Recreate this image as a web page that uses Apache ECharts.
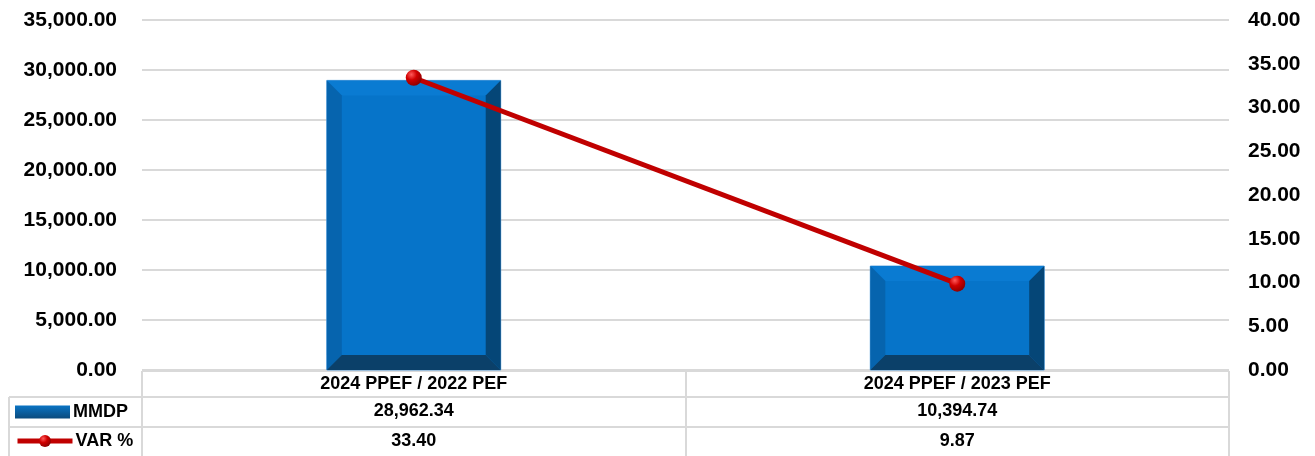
<!DOCTYPE html>
<html>
<head>
<meta charset="utf-8">
<script src="https://cdn.jsdelivr.net/npm/echarts@6/dist/echarts.min.js"></script>
<style>
  html, body { margin: 0; padding: 0; background: #fff; }
  #chart { width: 1315px; height: 456px; }
</style>
</head>
<body>
<div id="chart"></div>
<script>
// datos
const categories = ["2024 PPEF / 2022 PEF", "2024 PPEF / 2023 PEF"];
const mmdp = [28962.34, 10394.74];
const varPct = [33.40, 9.87];

const fmt = v => Number(v).toLocaleString("en-US", { minimumFractionDigits: 2, maximumFractionDigits: 2 });

const chart = echarts.init(document.getElementById("chart"));

// barra con bisel
function renderBevelBar(params, api) {
  const idx = api.value(0);
  const top = api.coord([idx, api.value(1)]);
  const bottom = api.coord([idx, 0]);
  const w = api.size([1, 0])[0] * 0.32;
  const x0 = top[0] - w / 2, x1 = top[0] + w / 2;
  const y0 = top[1], y1 = bottom[1];
  const b = Math.min(15, (y1 - y0) / 2);
  const poly = (pts, fill) => ({ type: "polygon", shape: { points: pts }, style: { fill: fill } });
  return {
    type: "group",
    children: [
      { type: "rect", shape: { x: x0, y: y0, width: x1 - x0, height: y1 - y0 }, style: { fill: "#0674c9", stroke: "#5aa0dc", lineWidth: 1 } },
      poly([[x0, y0], [x1, y0], [x1 - b, y0 + b], [x0 + b, y0 + b]], "#0a7bd2"),
      poly([[x0, y0], [x0 + b, y0 + b], [x0 + b, y1 - b], [x0, y1]], "#0664ae"),
      poly([[x1, y0], [x1 - b, y0 + b], [x1 - b, y1 - b], [x1, y1]], "#054677"),
      poly([[x0, y1], [x0 + b, y1 - b], [x1 - b, y1 - b], [x1, y1]], "#0b4069")
    ]
  };
}

const gray = "#d9d9d9";
const L = 142, R = 1229;
const hLine = (x1, y, x2) => ({ type: "line", shape: { x1: x1, y1: y, x2: x2, y2: y }, style: { stroke: gray, lineWidth: 2 }, z: 0 });
const vLine = (x, y1, y2) => ({ type: "line", shape: { x1: x, y1: y1, x2: x, y2: y2 }, style: { stroke: gray, lineWidth: 2 }, z: 0 });

const labelFont = { fontFamily: "Liberation Sans, Arial, sans-serif", fontWeight: "bold", color: "#000" };

const legendBase = {
  orient: "horizontal",
  left: 15,
  padding: 0,
  itemWidth: 55,
  itemHeight: 13,
  itemGap: 4,
  textStyle: Object.assign({ fontSize: 18, padding: [0, 0, 0, -2] }, labelFont)
};

const option = {
  animation: false,
  textStyle: { fontFamily: "Liberation Sans, Arial, sans-serif" },
  grid: { left: L, right: 1315 - R, top: 20, bottom: 86 },
  legend: [
    Object.assign({}, legendBase, {
      top: 403,
      data: [{ name: "MMDP", icon: "rect", itemStyle: {
        color: { type: "linear", x: 0, y: 0, x2: 0, y2: 1, colorStops: [
          { offset: 0, color: "#0a74c4" }, { offset: 1, color: "#0b4a7c" }] } } }]
    }),
    Object.assign({}, legendBase, {
      top: 432,
      itemHeight: 15,
      data: [{ name: "VAR %", lineStyle: { width: 5, color: "#c00000" } }]
    })
  ],
  xAxis: [
    {
      type: "category", data: categories, position: "bottom",
      axisLine: { show: false }, axisTick: { show: false },
      axisLabel: Object.assign({ fontSize: 18, margin: 5 }, labelFont)
    },
    {
      type: "category", data: mmdp.map(fmt), position: "bottom", offset: 28,
      axisLine: { show: false }, axisTick: { show: false },
      axisLabel: Object.assign({ fontSize: 18, margin: 4 }, labelFont)
    },
    {
      type: "category", data: varPct.map(fmt), position: "bottom", offset: 58,
      axisLine: { show: false }, axisTick: { show: false },
      axisLabel: Object.assign({ fontSize: 18, margin: 4 }, labelFont)
    }
  ],
  yAxis: [
    {
      type: "value", min: 0, max: 35000, interval: 5000,
      axisLine: { show: false }, axisTick: { show: false },
      splitLine: { lineStyle: { color: gray, width: 2 } },
      axisLabel: Object.assign({ fontSize: 21, margin: 25, formatter: fmt }, labelFont)
    },
    {
      type: "value", min: 0, max: 40, interval: 5,
      axisLine: { show: false }, axisTick: { show: false },
      splitLine: { show: false },
      axisLabel: Object.assign({ fontSize: 21, margin: 19, formatter: fmt }, labelFont)
    }
  ],
  series: [
    {
      name: "MMDP",
      type: "custom",
      renderItem: renderBevelBar,
      itemStyle: { color: "#0674c9" },
      encode: { x: 0, y: 1 },
      data: mmdp.map((v, i) => [i, v]),
      z: 2
    },
    {
      name: "VAR %",
      type: "line",
      yAxisIndex: 1,
      data: varPct,
      symbol: "circle",
      symbolSize: 16,
      lineStyle: { color: "#c00000", width: 5 },
      itemStyle: {
        color: {
          type: "radial", x: 0.35, y: 0.3, r: 0.75,
          colorStops: [
            { offset: 0, color: "#ff5a5a" },
            { offset: 0.45, color: "#d00000" },
            { offset: 1, color: "#8a0000" }
          ]
        }
      },
      z: 5
    }
  ],
  graphic: [
    hLine(L, 371, R),
    hLine(9, 397, R),
    hLine(9, 427, R),
    vLine(9, 397, 456),
    vLine(L, 371, 456),
    vLine(686, 371, 456),
    vLine(R, 371, 456)
  ]
};

chart.setOption(option);
</script>
</body>
</html>
